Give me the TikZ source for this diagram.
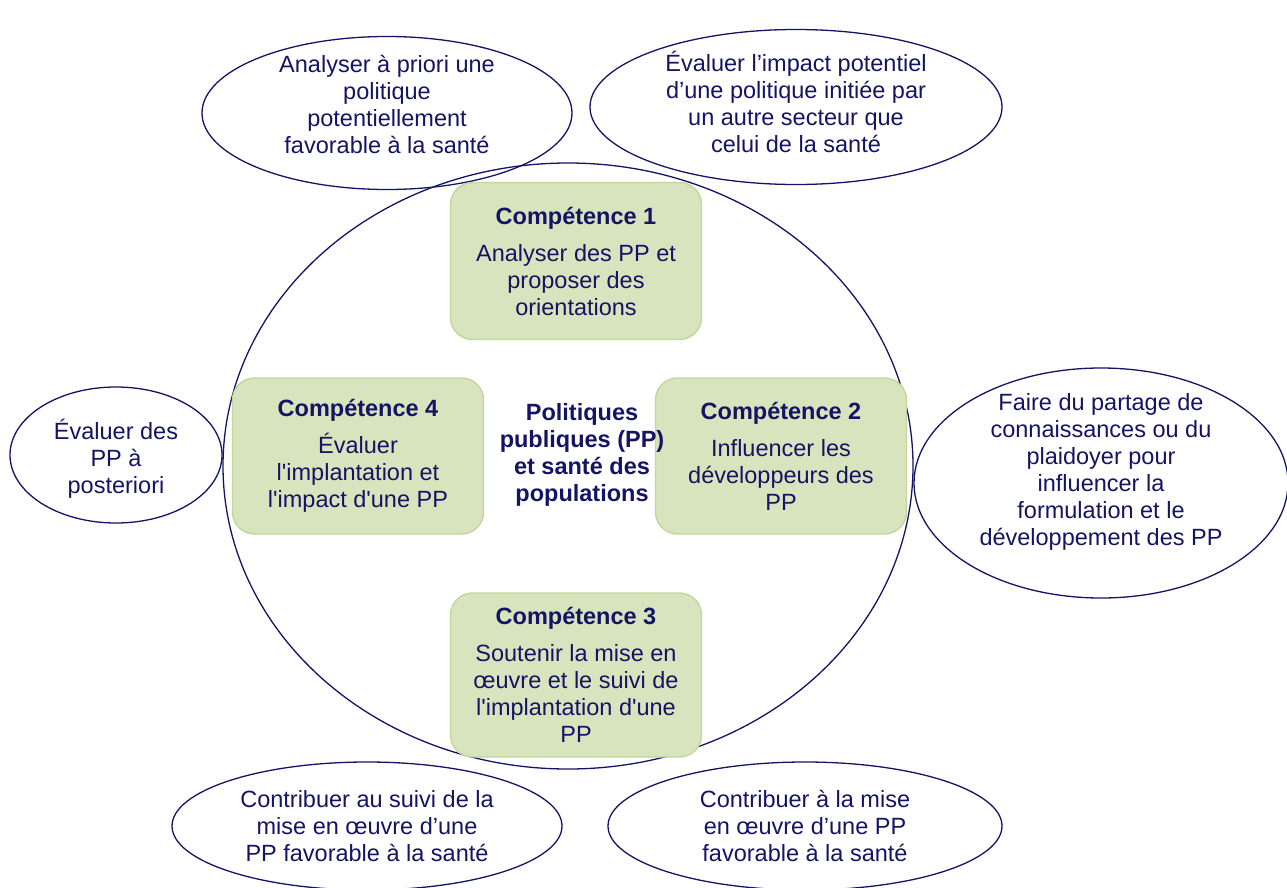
\documentclass[tikz,border=0pt]{standalone}
\usepackage{fontspec}
\setmainfont{Liberation Sans}
\usepackage{tikz}
\usetikzlibrary{positioning}
\usetikzlibrary{shapes.geometric}
\usepackage{xcolor}
\definecolor{navy}{HTML}{141464}
\definecolor{boxfill}{HTML}{D7E4BD}
\definecolor{boxline}{HTML}{C3D69B}
\newcommand{\sq}{\textquotesingle}
\tikzset{
  ovalbox/.style={ellipse, draw=navy, line width=1.3pt, inner sep=0pt},
  ovaltext/.style={inner sep=0pt, text=navy, align=center, font=\fontsize{23.5}{27}\selectfont},
  compbox/.style={draw=boxline, line width=1.4pt, fill=boxfill, rounded corners=22pt, minimum width=251pt, inner sep=0pt, text=navy, align=center, font=\fontsize{23.5}{27}\selectfont},
}
\begin{document}
\begin{tikzpicture}[x=1pt, y=-1pt]
				    		\useasboundingbox (0,0) rectangle (1287,888);
				    		\node[ovalbox, minimum width=690pt, minimum height=606pt] (pp) at (568,466) {};
				    		\node[ovalbox, minimum width=370pt, minimum height=153pt, label={[ovaltext, yshift=9pt]center:{Analyser à priori une\\politique\\potentiellement\\favorable à la santé}}] (apriori) at (387,113) {};
				    		\node[ovalbox, minimum width=412pt, minimum height=155pt, label={[ovaltext, yshift=5pt]center:{Évaluer l’impact potentiel\\d’une politique initiée par\\un autre secteur que\\celui de la santé}}] (impact) at (796,107) {};
				    		\node[ovalbox, minimum width=212pt, minimum height=136pt, label={[ovaltext, yshift=-4pt]center:{Évaluer des\\PP à\\posteriori}}] (posteriori) at (116,455) {};
				    		\node[ovalbox, minimum width=374pt, minimum height=230pt, label={[ovaltext, yshift=11pt]center:{Faire du partage de\\connaissances ou du\\plaidoyer pour\\influencer la\\formulation et le\\développement des PP}}] (plaidoyer) at (1101,483) {};
				    		\node[ovalbox, minimum width=390pt, minimum height=128pt, label={[ovaltext]center:{Contribuer au suivi de la\\mise en œuvre d’une\\PP favorable à la santé}}] (suivi) at (367,826) {};
				    		\node[ovalbox, minimum width=394pt, minimum height=128pt, label={[ovaltext]center:{Contribuer à la mise\\en œuvre d’une PP\\favorable à la santé}}] (miseoeuvre) at (805,826) {};
				    		\node[compbox, minimum height=157pt] (comp1) at (576,261) {\textbf{Compétence 1}\\[10pt]Analyser des PP et\\proposer des\\orientations};
				    		\node[compbox, minimum height=156pt] (comp2) at (781,456) {\textbf{Compétence 2}\\[10pt]Influencer les\\développeurs des\\PP};
				    		\node[compbox, minimum height=164pt] (comp3) at (576,675) {\textbf{Compétence 3}\\[10pt]Soutenir la mise en\\œuvre et le suivi de\\l\sq implantation d\sq une\\PP};
				    		\node[compbox, minimum height=156pt] (comp4) at (358,456) {\textbf{Compétence 4}\\[10pt]Évaluer\\l\sq implantation et\\l\sq impact d\sq une PP};
				    		\node[text=navy, align=center, font=\bfseries\fontsize{23.5}{27}\selectfont] (centre) at (582,455) {Politiques\\publiques (PP)\\et santé des\\populations};
				    	\end{tikzpicture}
\end{document}
